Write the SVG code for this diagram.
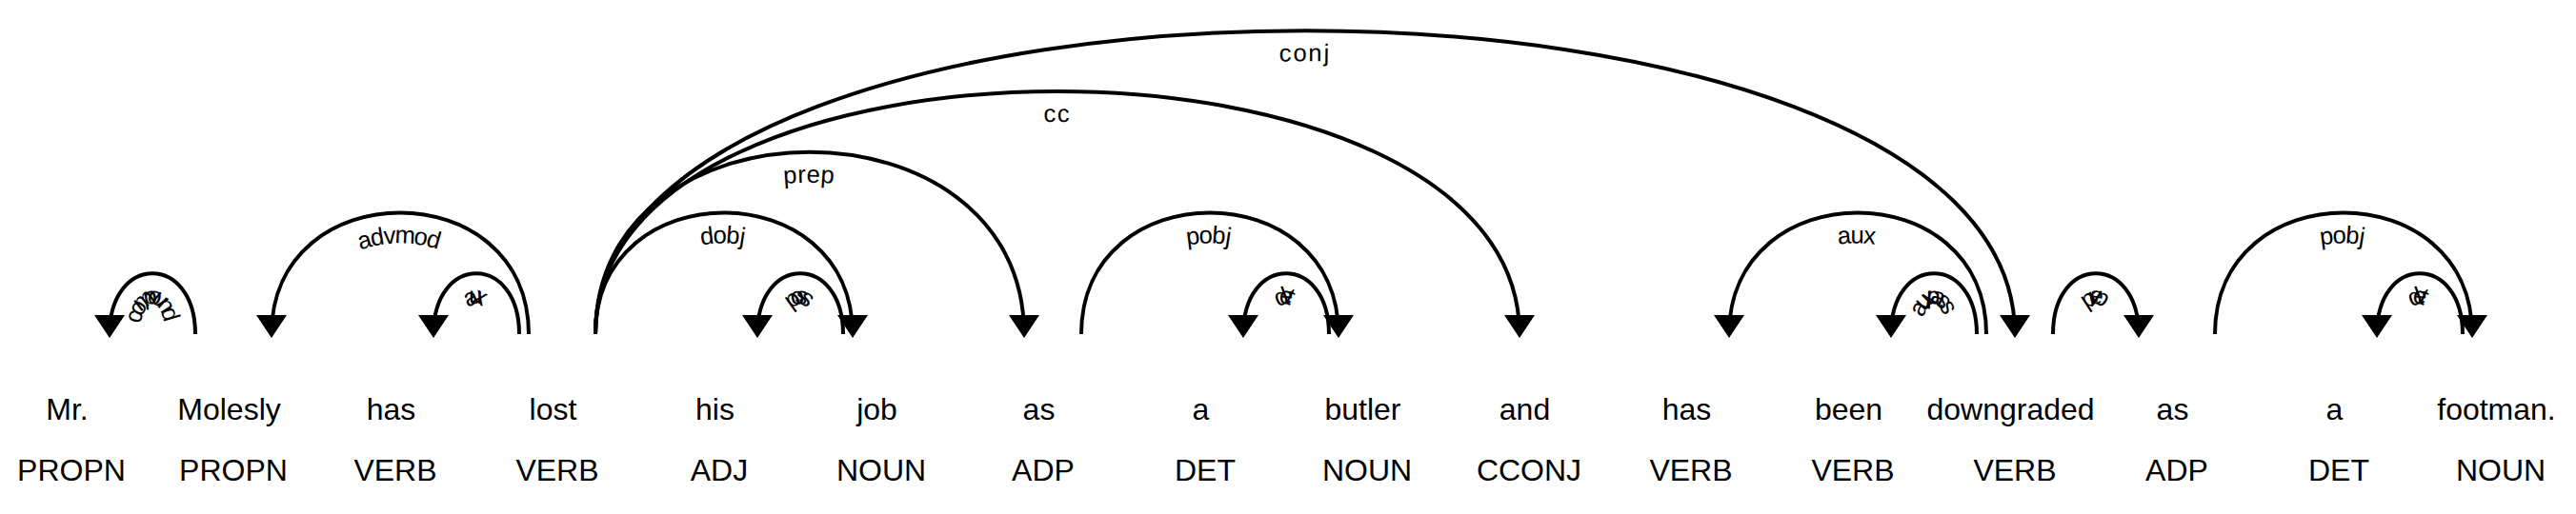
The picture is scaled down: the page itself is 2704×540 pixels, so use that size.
<svg xmlns="http://www.w3.org/2000/svg" width="2704" height="540" viewBox="0 0 2704 540">
<style>
  text { font-family: "Liberation Sans", Arial, sans-serif; fill: #000; }
  .word, .tag { font-size: 32px; text-anchor: middle; }
  .arc { fill: none; stroke: #000; stroke-width: 4px; }
  .head { fill: #000; }
  .lbl { font-size: 25.6px; letter-spacing: 2px; }
</style>
<rect x="0" y="0" width="2704" height="540" fill="#fff"/>
<g id="nodes">
  <g id="w0"><text class="word" x="70.5" y="441">Mr.</text><text class="tag" x="75" y="505">PROPN</text></g>
  <g id="w1"><text class="word" x="240.5" y="441">Molesly</text><text class="tag" x="245" y="505">PROPN</text></g>
  <g id="w2"><text class="word" x="410.5" y="441">has</text><text class="tag" x="415" y="505">VERB</text></g>
  <g id="w3"><text class="word" x="580.5" y="441">lost</text><text class="tag" x="585" y="505">VERB</text></g>
  <g id="w4"><text class="word" x="750.5" y="441">his</text><text class="tag" x="755" y="505">ADJ</text></g>
  <g id="w5"><text class="word" x="920.5" y="441">job</text><text class="tag" x="925" y="505">NOUN</text></g>
  <g id="w6"><text class="word" x="1090.5" y="441">as</text><text class="tag" x="1095" y="505">ADP</text></g>
  <g id="w7"><text class="word" x="1260.5" y="441">a</text><text class="tag" x="1265" y="505">DET</text></g>
  <g id="w8"><text class="word" x="1430.5" y="441">butler</text><text class="tag" x="1435" y="505">NOUN</text></g>
  <g id="w9"><text class="word" x="1600.5" y="441">and</text><text class="tag" x="1605" y="505">CCONJ</text></g>
  <g id="w10"><text class="word" x="1770.5" y="441">has</text><text class="tag" x="1775" y="505">VERB</text></g>
  <g id="w11"><text class="word" x="1940.5" y="441">been</text><text class="tag" x="1945" y="505">VERB</text></g>
  <g id="w12"><text class="word" x="2110.5" y="441">downgraded</text><text class="tag" x="2115" y="505">VERB</text></g>
  <g id="w13"><text class="word" x="2280.5" y="441">as</text><text class="tag" x="2285" y="505">ADP</text></g>
  <g id="w14"><text class="word" x="2450.5" y="441">a</text><text class="tag" x="2455" y="505">DET</text></g>
  <g id="w15"><text class="word" x="2620.5" y="441">footman.</text><text class="tag" x="2625" y="505">NOUN</text></g>
</g>
<g id="connectors">
  <g id="arc-compound">
    <path id="a1" class="arc" d="M115,351 C115,266 205,266 205,351"/>
    <text class="lbl" dy="1.25em"><textPath href="#a1" startOffset="50%" text-anchor="middle">compound</textPath></text>
    <path class="head" d="M115,355 L99,331 131,331"/>
  </g>
  <g id="arc-aux1">
    <path id="a2" class="arc" d="M455,351 C455,266 545,266 545,351"/>
    <text class="lbl" dy="1.25em"><textPath href="#a2" startOffset="50%" text-anchor="middle">aux</textPath></text>
    <path class="head" d="M455,355 L439,331 471,331"/>
  </g>
  <g id="arc-advmod">
    <path id="a3" class="arc" d="M285,351 C285,181 555,181 555,351"/>
    <text class="lbl" dy="1.25em"><textPath href="#a3" startOffset="50%" text-anchor="middle">advmod</textPath></text>
    <path class="head" d="M285,355 L269,331 301,331"/>
  </g>
  <g id="arc-dobj">
    <path id="a4" class="arc" d="M625,351 C625,181 895,181 895,351"/>
    <text class="lbl" dy="1.25em"><textPath href="#a4" startOffset="50%" text-anchor="middle">dobj</textPath></text>
    <path class="head" d="M895,355 L911,331 879,331"/>
  </g>
  <g id="arc-poss">
    <path id="a5" class="arc" d="M795,351 C795,266 885,266 885,351"/>
    <text class="lbl" dy="1.25em"><textPath href="#a5" startOffset="50%" text-anchor="middle">poss</textPath></text>
    <path class="head" d="M795,355 L779,331 811,331"/>
  </g>
  <g id="arc-prep1">
    <path id="a6" class="arc" d="M625,351 C625,96 1075,96 1075,351"/>
    <text class="lbl" dy="1.25em"><textPath href="#a6" startOffset="50%" text-anchor="middle">prep</textPath></text>
    <path class="head" d="M1075,355 L1091,331 1059,331"/>
  </g>
  <g id="arc-pobj1">
    <path id="a7" class="arc" d="M1135,351 C1135,181 1405,181 1405,351"/>
    <text class="lbl" dy="1.25em"><textPath href="#a7" startOffset="50%" text-anchor="middle">pobj</textPath></text>
    <path class="head" d="M1405,355 L1421,331 1389,331"/>
  </g>
  <g id="arc-det1">
    <path id="a8" class="arc" d="M1305,351 C1305,266 1395,266 1395,351"/>
    <text class="lbl" dy="1.25em"><textPath href="#a8" startOffset="50%" text-anchor="middle">det</textPath></text>
    <path class="head" d="M1305,355 L1289,331 1321,331"/>
  </g>
  <g id="arc-cc">
    <path id="a9" class="arc" d="M625,351 C625,11 1595,11 1595,351"/>
    <text class="lbl" dy="1.25em"><textPath href="#a9" startOffset="50%" text-anchor="middle">cc</textPath></text>
    <path class="head" d="M1595,355 L1611,331 1579,331"/>
  </g>
  <g id="arc-conj">
    <path id="a10" class="arc" d="M625,351 C625,-74 2115,-74 2115,351"/>
    <text class="lbl" dy="1.25em"><textPath href="#a10" startOffset="50%" text-anchor="middle">conj</textPath></text>
    <path class="head" d="M2115,355 L2131,331 2099,331"/>
  </g>
  <g id="arc-aux2">
    <path id="a11" class="arc" d="M1815,351 C1815,181 2085,181 2085,351"/>
    <text class="lbl" dy="1.25em"><textPath href="#a11" startOffset="50%" text-anchor="middle">aux</textPath></text>
    <path class="head" d="M1815,355 L1799,331 1831,331"/>
  </g>
  <g id="arc-auxpass">
    <path id="a12" class="arc" d="M1985,351 C1985,266 2075,266 2075,351"/>
    <text class="lbl" dy="1.25em"><textPath href="#a12" startOffset="50%" text-anchor="middle">auxpass</textPath></text>
    <path class="head" d="M1985,355 L1969,331 2001,331"/>
  </g>
  <g id="arc-prep2">
    <path id="a13" class="arc" d="M2155,351 C2155,266 2245,266 2245,351"/>
    <text class="lbl" dy="1.25em"><textPath href="#a13" startOffset="50%" text-anchor="middle">prep</textPath></text>
    <path class="head" d="M2245,355 L2261,331 2229,331"/>
  </g>
  <g id="arc-pobj2">
    <path id="a14" class="arc" d="M2325,351 C2325,181 2595,181 2595,351"/>
    <text class="lbl" dy="1.25em"><textPath href="#a14" startOffset="50%" text-anchor="middle">pobj</textPath></text>
    <path class="head" d="M2595,355 L2611,331 2579,331"/>
  </g>
  <g id="arc-det2">
    <path id="a15" class="arc" d="M2495,351 C2495,266 2585,266 2585,351"/>
    <text class="lbl" dy="1.25em"><textPath href="#a15" startOffset="50%" text-anchor="middle">det</textPath></text>
    <path class="head" d="M2495,355 L2479,331 2511,331"/>
  </g>
</g>
</svg>
